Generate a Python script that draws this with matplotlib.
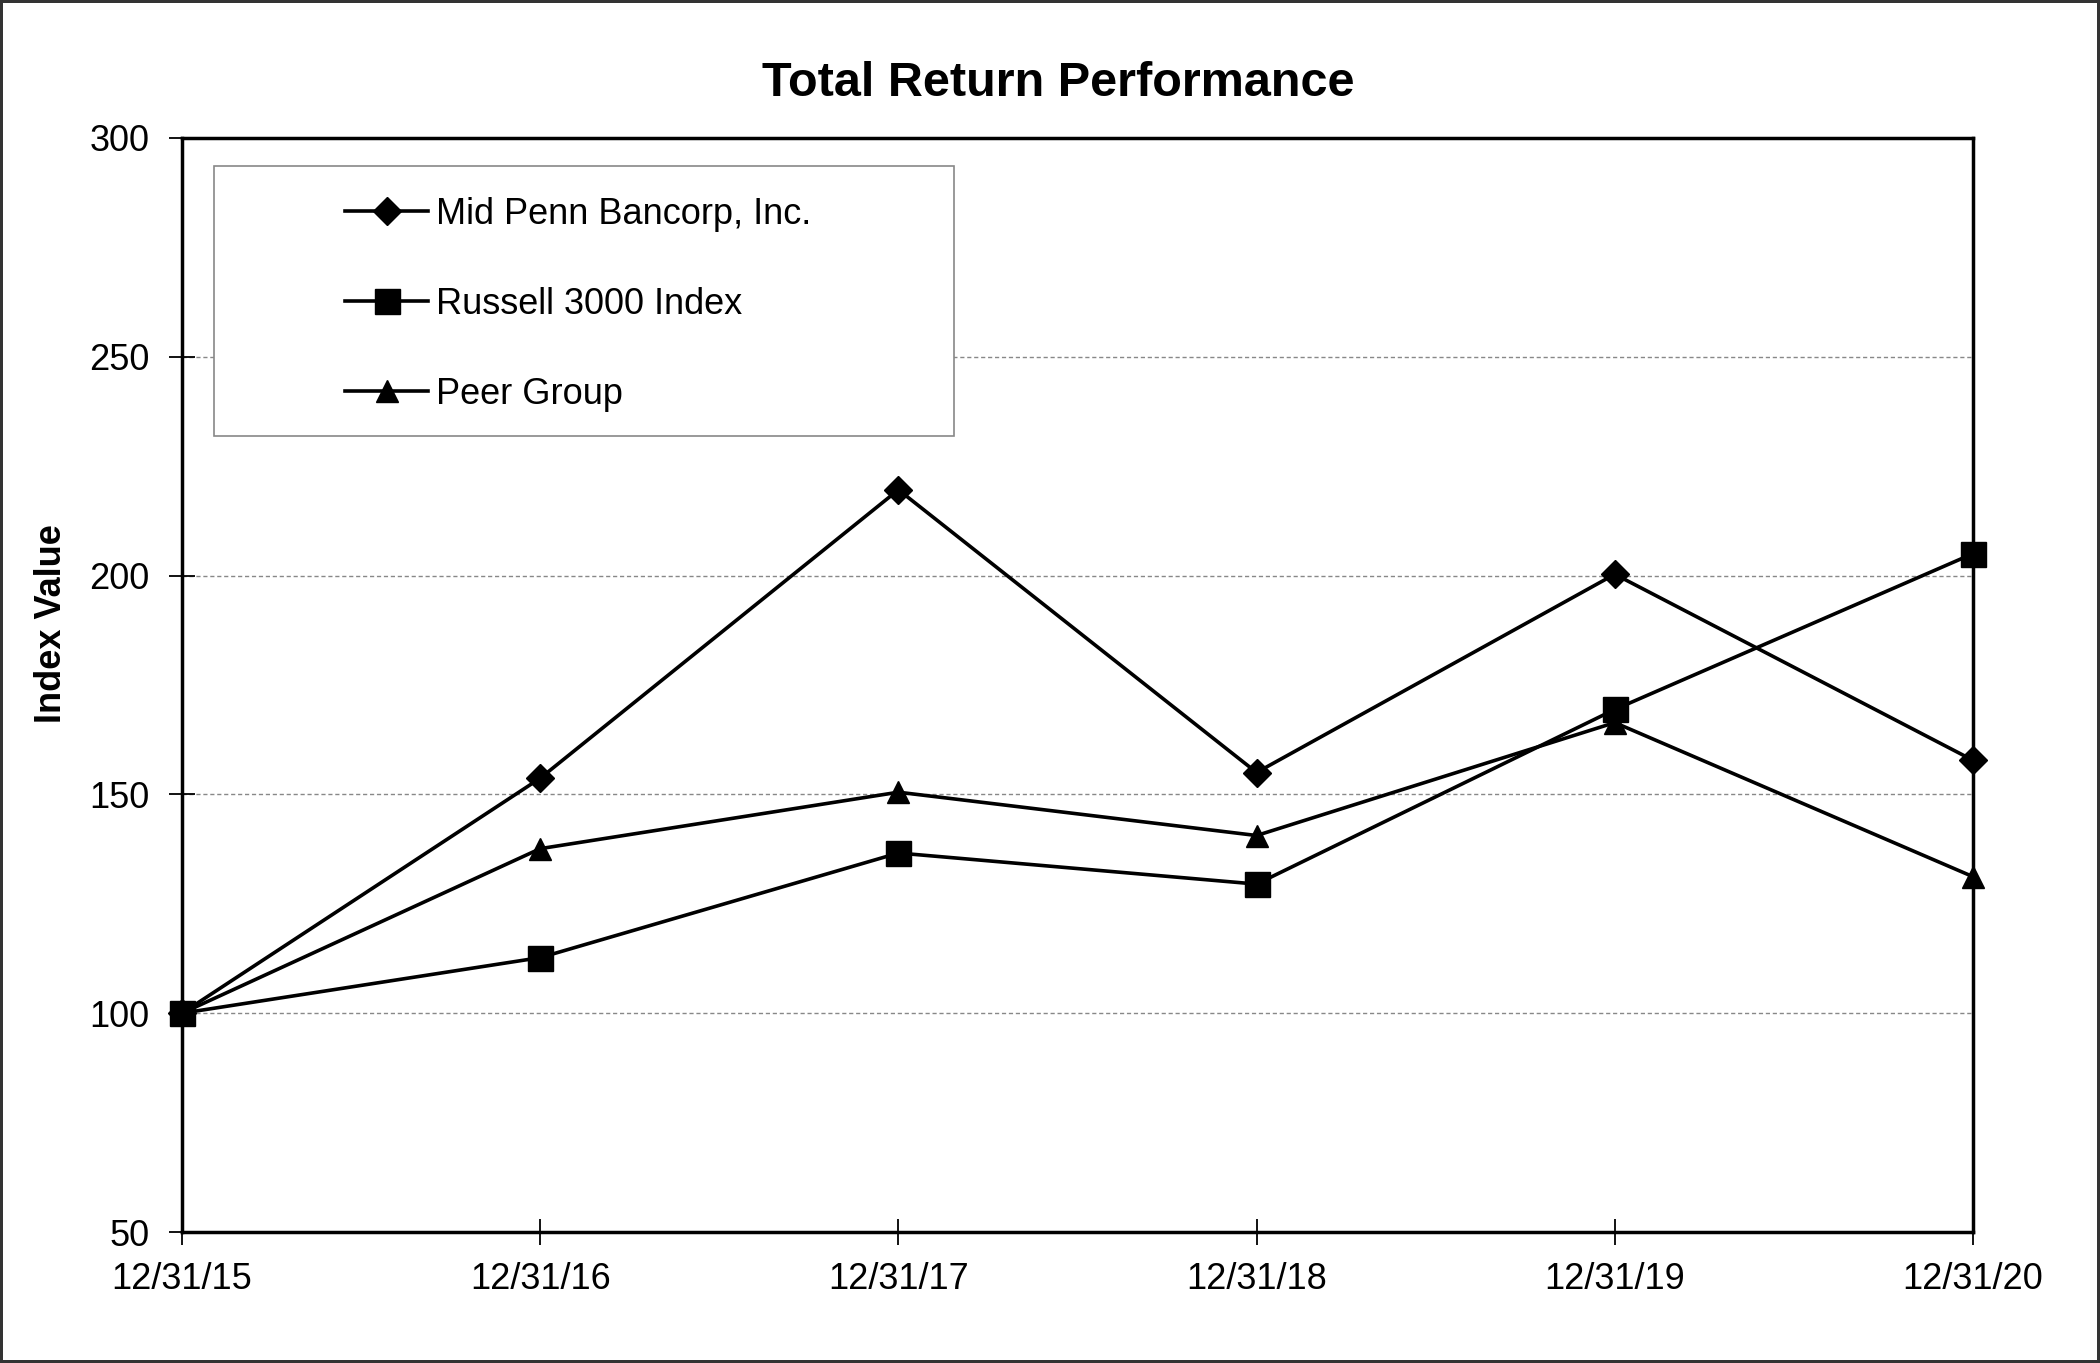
import matplotlib
matplotlib.use("Agg")
import matplotlib.pyplot as plt
from matplotlib.patches import Rectangle

plt.rcParams['font.family'] = ['Liberation Sans', 'DejaVu Sans']

dates = ["12/31/15", "12/31/16", "12/31/17", "12/31/18", "12/31/19", "12/31/20"]
mid_penn = [100, 153.7, 219.6, 155.0, 200.3, 157.8]
russell = [100, 112.7, 136.6, 129.5, 169.4, 205.0]
peer = [100, 137.6, 150.5, 140.6, 166.4, 131.2]
series_names = ["Mid Penn Bancorp, Inc.", "Russell 3000 Index", "Peer Group"]
y_ticks = [50, 100, 150, 200, 250, 300]

fig = plt.figure(figsize=(21, 13.63), dpi=100)
fig.patch.set_edgecolor('#333333')
fig.patch.set_linewidth(3)
ax = fig.add_axes([0.0867, 0.0961, 0.8528, 0.8027])

x = list(range(len(dates)))
styles = [('D', 14), ('s', 18), ('^', 16)]
for vals, name, (m, ms) in zip([mid_penn, russell, peer], series_names, styles):
    ax.plot(x, vals, color='black', lw=2.6, marker=m, markersize=ms, label=name,
            zorder=3, clip_on=False)

ax.set_xlim(0, len(dates) - 1)
ax.set_ylim(50, 300)
ax.set_yticks(y_ticks)
ax.set_xticks(x)
ax.set_xticklabels(dates)
for gy in y_ticks[1:-1]:
    ax.axhline(gy, color='#888888', lw=1.0, ls=(0, (3, 2)), zorder=1)
for s in ax.spines.values():
    s.set_linewidth(2.5)
    s.set_zorder(2)
ax.tick_params(axis='both', direction='inout', length=19, width=1.3, labelsize=26, colors='black')
ax.tick_params(axis='x', pad=12)
ax.tick_params(axis='y', pad=14)

ax.set_title("Total Return Performance", fontsize=35, fontweight='bold', pad=30, x=0.489)
ax.set_ylabel("Index Value", fontsize=26, fontweight='bold')
ax.yaxis.set_label_coords(-0.063, 0.556)

# legend frame
ax.add_patch(Rectangle((0.018, 0.728), 0.413, 0.246, transform=ax.transAxes,
                       facecolor='white', edgecolor='#888888', lw=1.2, zorder=4))
leg = ax.legend(loc='upper left', bbox_to_anchor=(0.091, 0.946), frameon=False,
                fontsize=26, labelspacing=1.52, handlelength=2.3, handletextpad=0.23,
                borderpad=0, borderaxespad=0)
leg.set_zorder(5)

fig.savefig("out.png", dpi=100, edgecolor=fig.get_edgecolor())
